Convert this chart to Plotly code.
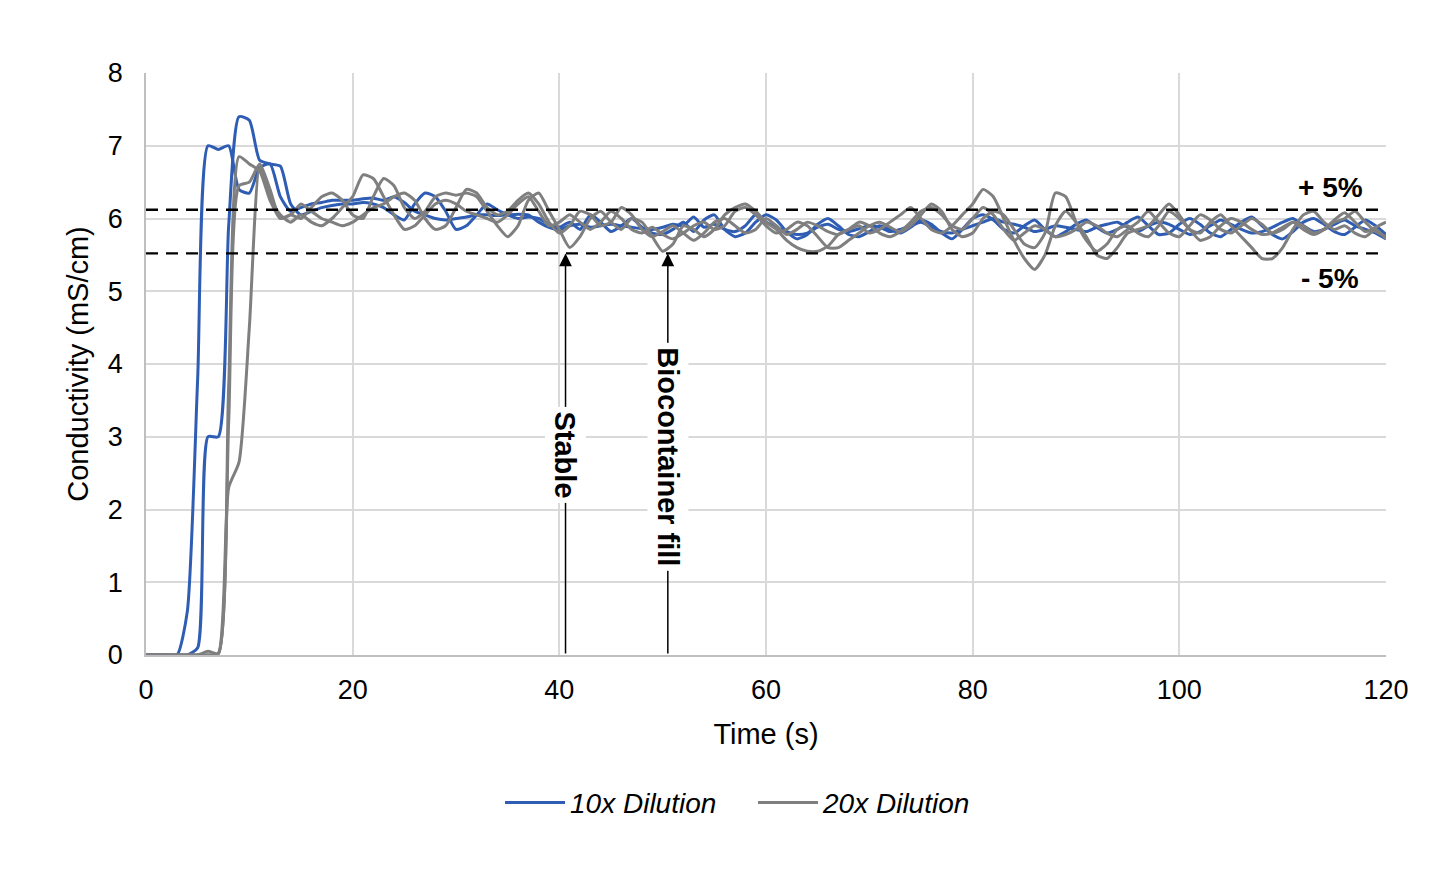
import plotly.graph_objects as go

time_s = [0, 1, 2, 3, 4, 5, 6, 7, 8, 9, 10, 11, 12, 13, 14,
          15, 16, 17, 18, 19, 20, 21, 22, 23, 24, 25,
          26, 27, 28, 29, 30, 31, 32, 33, 34, 35, 36, 37, 38, 39, 40,
          41, 42, 43, 44, 45, 46, 47, 48, 49, 50, 51, 52, 53, 54, 55, 56, 57, 58, 59, 60,
          61, 62, 63, 64, 65, 66, 67, 68, 69, 70, 71, 72, 73, 74, 75, 76, 77, 78, 79, 80,
          81, 82, 83, 84, 85, 86, 87, 88, 89, 90, 91, 92, 93, 94, 95, 96, 97, 98, 99, 100,
          101, 102, 103, 104, 105, 106, 107, 108, 109, 110, 111, 112, 113, 114, 115, 116, 117, 118, 119, 120]

blue_run1 = [0, 0, 0, 0, 0.6, 3.8, 7.0, 6.95, 7.0, 6.4, 6.35, 6.7, 6.75, 6.3, 6.1,
             6.15, 6.2, 6.22, 6.25, 6.25, 6.25, 6.27, 6.28, 6.25, 6.3, 6.22,
             6.1, 6.05, 6.0, 5.98, 6.0, 6.02, 6.05, 6.05, 6.04, 6.05, 6.06, 6.05, 5.95, 5.88, 5.85,
             5.9, 5.92, 5.88, 5.9, 5.92, 5.9, 5.88, 5.86, 5.85, 5.88, 5.92, 5.9, 6.02, 5.88, 5.92, 5.85, 5.82, 5.9, 6.05, 5.95,
             5.88, 5.82, 5.78, 5.8, 5.88, 5.92, 5.85, 5.82, 5.86, 5.9, 5.88, 5.82, 5.85, 5.9, 5.95, 5.88, 5.82, 5.8, 5.85, 5.9,
             5.95, 6.0, 5.95, 5.92, 5.88, 5.82, 5.85, 5.9, 5.88, 5.85, 5.82, 5.88, 5.92, 5.95, 5.88, 5.82, 5.9, 5.95, 5.92, 5.85,
             5.78, 5.82, 5.9, 5.98, 5.92, 5.85, 5.8, 5.82, 5.88, 5.95, 6.0, 5.9, 5.82, 5.85, 5.92, 5.98, 5.9, 5.85, 5.8, 5.72]

blue_run2 = [0, 0, 0, 0, 0, 0.1, 3.0, 3.0, 5.9, 7.4, 7.35, 6.8, 6.75, 6.72, 6.2,
             6.05, 6.1, 6.15, 6.18, 6.2, 6.2, 6.22, 6.2, 6.15, 6.05, 5.98,
             6.2, 6.35, 6.3, 6.1, 5.85, 5.9, 6.05, 6.2, 6.12, 6.05, 6.0, 6.02, 6.0, 5.92, 5.88,
             5.95, 5.85, 6.05, 5.95, 5.82, 5.9, 6.0, 5.88, 5.8, 5.78, 5.85, 5.95, 5.82, 5.98, 6.05, 5.85, 5.75, 5.8, 5.95, 6.05,
             5.98, 5.82, 5.72, 5.78, 5.92, 6.0, 5.9, 5.78, 5.75, 5.82, 5.9, 5.85, 5.8, 5.88, 5.98, 5.92, 5.8, 5.72, 5.85, 6.0,
             6.05, 5.98, 5.85, 5.8, 5.9, 5.98, 5.85, 5.75, 5.82, 5.92, 5.98, 5.88, 5.8, 5.85, 5.95, 6.02, 5.9, 5.78, 5.8, 5.92,
             6.0, 5.92, 5.8, 5.75, 5.85, 5.95, 6.02, 5.9, 5.78, 5.72, 5.82, 5.95, 6.0, 5.92, 5.82, 5.78, 5.88, 5.98, 5.9, 5.78]

gray_run1 = [0, 0, 0, 0, 0, 0, 0.05, 0.02, 3.7, 6.85, 6.75, 6.65, 6.25, 6.0, 6.05,
             6.0, 6.15, 6.3, 6.35, 6.25, 6.05, 6.0, 6.3, 6.55, 6.45, 6.15,
             6.0, 6.1, 6.3, 6.35, 6.32, 6.35, 6.3, 6.1, 5.9, 5.75, 5.9, 6.25, 6.35, 6.1, 5.85,
             5.6, 5.75, 6.0, 6.1, 5.95, 5.85, 6.0, 5.95, 5.75, 5.55, 5.65, 5.9, 5.85, 5.75, 5.85, 6.05, 6.15, 6.2, 6.1, 5.95,
             5.85, 5.7, 5.6, 5.55, 5.55, 5.62, 5.78, 5.85, 5.9, 5.8, 5.85, 5.95, 6.05, 6.15, 6.0, 5.85, 5.8, 5.9, 6.05, 6.2,
             6.4, 6.3, 6.0, 5.7, 5.45, 5.3, 5.5, 5.9, 6.1, 5.95, 5.75, 5.5, 5.45, 5.6, 5.8, 5.85, 5.9, 6.05, 6.2, 6.05,
             5.85, 5.8, 5.95, 6.05, 5.9, 5.75, 5.6, 5.45, 5.45, 5.6, 5.85, 6.05, 6.1, 5.95, 5.85, 5.9, 5.8, 5.75, 5.85, 5.72]

gray_run2 = [0, 0, 0, 0, 0, 0, 0, 0.02, 2.3, 2.65, 4.5, 6.7, 6.3, 6.05, 5.95,
             6.05, 5.95, 5.9, 6.0, 6.15, 6.3, 6.6, 6.55, 6.3, 6.05, 5.85,
             5.9, 6.05, 6.2, 6.25, 6.2, 6.1, 6.05, 6.0, 5.95, 6.05, 6.2, 6.3, 6.1, 5.9, 5.95,
             6.05, 5.95, 5.85, 5.95, 6.1, 6.0, 5.85, 5.8, 5.88, 5.78, 5.72, 5.8, 5.9, 5.95, 5.85, 5.9, 6.1, 6.15, 6.05, 5.9,
             5.8, 5.85, 5.95, 5.9, 5.75, 5.6, 5.6, 5.7, 5.8, 5.9, 5.95, 5.88, 5.82, 5.9, 6.05, 6.2, 6.1, 5.85, 5.75, 5.8,
             6.0, 6.1, 6.05, 5.85, 5.65, 5.6, 5.8, 6.35, 6.3, 5.95, 5.7, 5.55, 5.65, 5.85, 5.9, 5.8, 5.75, 5.9, 6.1, 6.0,
             5.85, 5.7, 5.75, 5.9, 6.0, 5.95, 5.85, 5.78, 5.8, 5.88, 5.95, 5.85, 5.78, 5.85, 5.98, 6.08, 5.95, 5.82, 5.88, 5.95]

gray_run3 = [0, 0, 0, 0, 0, 0, 0, 0.02, 3.2, 6.45, 6.5, 6.75, 6.4, 6.0, 6.05,
             6.2, 6.1, 6.0, 5.95, 5.9, 5.95, 6.05, 6.15, 6.2, 6.3, 6.35,
             6.25, 6.0, 5.85, 5.9, 6.15, 6.4, 6.35, 6.15, 6.05, 6.1, 6.25, 6.35, 6.2, 5.95, 5.8,
             5.9, 6.1, 6.05, 5.9, 5.95, 6.15, 6.05, 5.85, 5.75, 5.82, 5.9, 5.8, 5.7, 5.8, 5.95, 6.0, 5.9, 5.8, 5.85, 6.0,
             5.9, 5.78, 5.85, 5.95, 5.9, 5.82, 5.78, 5.85, 5.95, 5.9, 5.8, 5.75, 5.82, 5.95, 6.1, 6.15, 6.05, 5.9, 5.85, 6.0,
             6.15, 6.05, 5.85, 5.7, 5.8, 5.9, 5.85, 5.75, 5.78, 5.85, 5.95, 5.9, 5.8, 5.75, 5.85, 5.95, 6.1, 5.95, 5.8, 5.75,
             5.9, 6.05, 5.98, 5.85, 5.8, 5.9, 6.0, 5.92, 5.8, 5.85, 5.95, 5.9, 5.8, 5.85, 5.95, 6.0, 6.1, 5.95, 5.82, 5.75]

limit_x = [0, 120]
upper_limit = 6.12
lower_limit = 5.52
marker_times = [40.6, 50.5]
marker_labels = ["Stable", "Biocontainer fill"]
marker_label_y = [2.75, 2.72]
limit_labels = ["+ 5%", "- 5%"]
limit_label_pos = [(114.6, 6.42), (114.6, 5.18)]

BLUE = "#2E5DB3"
GRAY = "#7F7F7F"
FONT = "Liberation Sans, Arial, sans-serif"

fig = go.Figure()

series = [
    (blue_run1, BLUE, "10x Dilution", True, "b"),
    (blue_run2, BLUE, "10x Dilution", False, "b"),
    (gray_run1, GRAY, "20x Dilution", True, "g"),
    (gray_run2, GRAY, "20x Dilution", False, "g"),
    (gray_run3, GRAY, "20x Dilution", False, "g"),
]
for vals, col, name, show, grp in series:
    fig.add_trace(go.Scatter(
        x=time_s, y=vals, mode="lines", name=name, legendgroup=grp,
        showlegend=show,
        line=dict(color=col, width=3, shape="spline", smoothing=0.6),
    ))

for lim in (upper_limit, lower_limit):
    fig.add_trace(go.Scatter(
        x=limit_x, y=[lim, lim], mode="lines", showlegend=False,
        line=dict(color="black", width=2.4, dash="12px,8px"), hoverinfo="skip",
    ))

for xt, lab, ly in zip(marker_times, marker_labels, marker_label_y):
    fig.add_annotation(
        x=xt, y=lower_limit, ax=xt, ay=0, xref="x", yref="y", axref="x", ayref="y",
        text="", showarrow=True, arrowhead=2, arrowsize=1.7, arrowwidth=1.5,
        arrowcolor="black",
    )
    fig.add_annotation(
        x=xt, y=ly, xref="x", yref="y", text="<b>" + lab + "</b>",
        showarrow=False, textangle=90, bgcolor="white",
        font=dict(family=FONT, size=29, color="black"), borderpad=4,
    )

for lab, (lx, ly) in zip(limit_labels, limit_label_pos):
    fig.add_annotation(x=lx, y=ly, xref="x", yref="y", text="<b>" + lab + "</b>",
                       showarrow=False, font=dict(family=FONT, size=28, color="black"))

fig.update_layout(
    width=1440, height=879,
    margin=dict(l=146, r=54, t=73, b=224),
    paper_bgcolor="white", plot_bgcolor="white",
    font=dict(family=FONT, size=27, color="black"),
    showlegend=True,
    legend=dict(orientation="h", x=0.2855, y=-0.254, xanchor="left", yanchor="middle",
                font=dict(family=FONT, size=28, color="black", style="italic"),
                entrywidth=178, entrywidthmode="pixels",
                itemwidth=60, traceorder="normal"),
)
fig.update_xaxes(
    range=[0, 120], tickvals=[0, 20, 40, 60, 80, 100, 120],
    showgrid=True, gridcolor="#D9D9D9", gridwidth=1.5,
    showline=True, linecolor="#BFBFBF", linewidth=1.5,
    zeroline=False, ticks="", ticklabelstandoff=10,
    tickfont=dict(family=FONT, size=27, color="black"),
    title=dict(text="Time (s)", font=dict(family=FONT, size=29, color="black"), standoff=20),
)
fig.update_yaxes(
    range=[0, 8], tickvals=[0, 1, 2, 3, 4, 5, 6, 7, 8],
    showgrid=True, gridcolor="#D9D9D9", gridwidth=1.5,
    showline=True, linecolor="#BFBFBF", linewidth=1.5,
    zeroline=False, ticks="", ticklabelstandoff=16,
    tickfont=dict(family=FONT, size=27, color="black"),
    title=dict(text="Conductivity (mS/cm)", font=dict(family=FONT, size=29, color="black"), standoff=11),
)

fig.write_html("out.html")
